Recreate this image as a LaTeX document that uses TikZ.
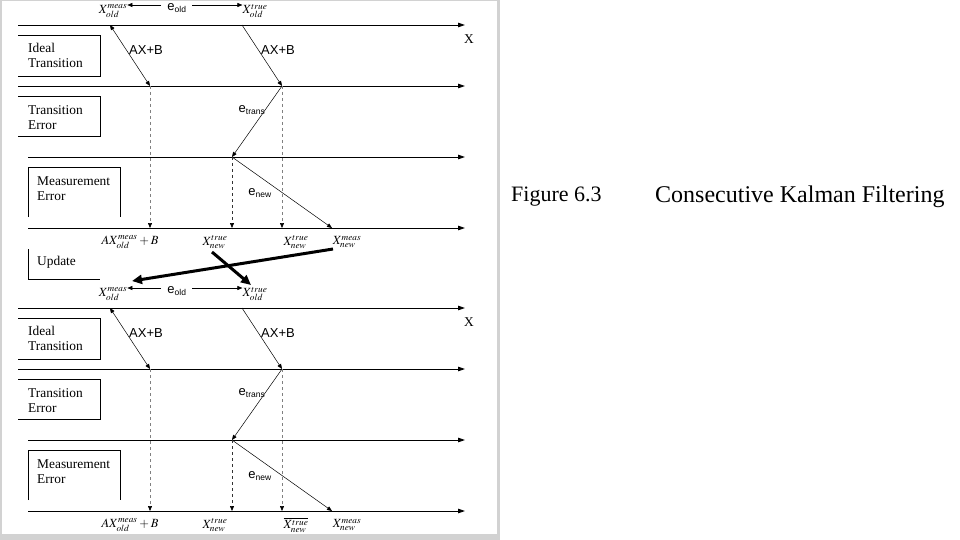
\documentclass[tikz,border=0pt]{standalone}
\usepackage{mathptmx}
\usepackage{fontspec}
\setmainfont{Liberation Serif}
\setsansfont{Liberation Sans}
\usetikzlibrary{arrows.meta}
\tikzset{
  axisline/.style={line width=0.9pt,-{Triangle[length=7pt,width=4.5pt]}},
  oneway/.style={line width=0.5pt,-{Triangle[length=5pt,width=4pt]}},
  twoway/.style={line width=0.5pt,{Triangle[length=5pt,width=4pt]}-{Triangle[length=5pt,width=4pt]}},
  dropline/.style={dashed,gray,line width=0.6pt,-{Triangle[length=5pt,width=4pt,black]}},
  bigarrow/.style={line width=3pt,-{Triangle[length=10pt,width=9pt]}},
  boxtext/.style={font=\fontsize{13.4}{15}\selectfont,align=left,anchor=west,inner sep=0pt},
  mathlbl/.style={font=\fontsize{12.5}{14}\selectfont,inner sep=0pt},
  sanslbl/.style={font=\sffamily\fontsize{13}{15}\selectfont,inner sep=0pt}
}
\def\eidx#1{e\textsubscript{\fontsize{8.5}{9}\selectfont #1}}
\begin{document}
\begin{tikzpicture}[x=1pt,y=-1pt]
		%%%%% FRAME %%%%%
		\fill[white] (0,0) rectangle (960,540);
		\fill[gray!35] (0,0) rectangle (500,540);
		\fill[white] (2,1) rectangle (497,534);
		\useasboundingbox (0,0) rectangle (960,540);
		
		%%%%% TWO PANELS %%%%%
		\foreach \p/\dy/\ov in {a/0/\relax,b/283/\overline}{
		\begin{scope}[yshift=-\dy pt]
		% axes
		\draw[axisline] (18,25) -- (465,25);
		\draw[axisline] (18,86) -- (465,86);
		\draw[axisline] (28,157) -- (465,157);
		\draw[axisline] (28,228) -- (465,228);
		\node[font=\fontsize{13.4}{15}\selectfont] (\p-xaxis) at (469,39) {X};
		
		% row boxes
		\draw[line width=0.6pt] (18,35) -- (100,35) -- (100,76) -- (18,76);
		\node[boxtext] (\p-ideal) at (28,55.5) {Ideal\\Transition};
		\draw[line width=0.6pt] (18,96) -- (100,96) -- (100,136) -- (18,136);
		\node[boxtext] (\p-terr) at (28,117.5) {Transition\\Error};
		\draw[line width=0.6pt] (28,217) -- (28,167) -- (120,167) -- (120,217);
		\node[boxtext] (\p-merr) at (37,188.5) {Measurement\\Error};
		
		% old states
		\node[mathlbl] (\p-xmo) at (113,11) {$X^{meas}_{old}$};
		\node[mathlbl] (\p-xto) at (255,11) {$X^{true}_{old}$};
		\node[sanslbl] (\p-eold) at (177,8) {\eidx{old}};
		\coordinate (\p-eoL) at (161,5);
		\coordinate (\p-eoR) at (192,5);
		\draw[oneway] (\p-eoL) -- (\p-xmo.east |- \p-eoL);
		\draw[oneway] (\p-eoR) -- (\p-xto.west |- \p-eoR);
		
		% transition points
		\coordinate (\p-mo) at (110,25);
		\coordinate (\p-to) at (242,25);
		\coordinate (\p-mi) at (150,86);
		\coordinate (\p-ti) at (282,86);
		\coordinate (\p-tn) at (232,157);
		\coordinate (\p-mn) at (332,228);
		\coordinate (\p-fa) at (150,228);
		\coordinate (\p-fb) at (232,228);
		\coordinate (\p-fc) at (282,228);
		
		\draw[twoway] (\p-mo) -- (\p-mi);
		\node[sanslbl] (\p-ab1) at (146,50) {AX+B};
		\draw[oneway] (\p-to) -- (\p-ti);
		\node[sanslbl] (\p-ab2) at (278,50) {AX+B};
		\draw[oneway] (\p-ti) -- (\p-tn);
		\node[sanslbl] (\p-etr) at (252,110) {\eidx{trans}};
		\draw[oneway] (\p-tn) -- (\p-mn);
		\node[sanslbl] (\p-enw) at (260,193) {\eidx{new}};
		
		\draw[dropline] (\p-mi) -- (\p-fa);
		\draw[dropline,black!80] (\p-tn) -- (\p-fb);
		\draw[dropline] (\p-ti) -- (\p-fc);
		
		% new states
		\node[mathlbl] (\p-axb) at (130,242) {$AX^{meas}_{old}+B$};
		\node[mathlbl] (\p-xtn) at (215,242) {$X^{true}_{new}$};
		\node[mathlbl] (\p-xtb) at (296,242) {$\ov{X^{true}_{new}}$};
		\node[mathlbl] (\p-xmn) at (347,242) {$X^{meas}_{new}$};
		\end{scope}
		}
		
		%%%%% UPDATE %%%%%
		\draw[line width=0.6pt] (28,249) -- (28,279) -- (100,279);
		\node[boxtext] (upd) at (37,262) {Update};
		\coordinate (upA) at (333,249);
		\coordinate (upB) at (132,281);
		\coordinate (upC) at (212,252);
		\coordinate (upD) at (251,285);
		\draw[bigarrow] (upA) -- (upB);
		\draw[bigarrow] (upC) -- (upD);
		
		%%%%% CAPTION %%%%%
		\node[font=\fontsize{22}{24}\selectfont,anchor=west,inner sep=0pt] (fig) at (511,197) {Figure 6.3};
		\node[font=\fontsize{24}{26}\selectfont,anchor=west,inner sep=0pt] (cap) at (655,197) {Consecutive Kalman Filtering};
\end{tikzpicture}
\end{document}
